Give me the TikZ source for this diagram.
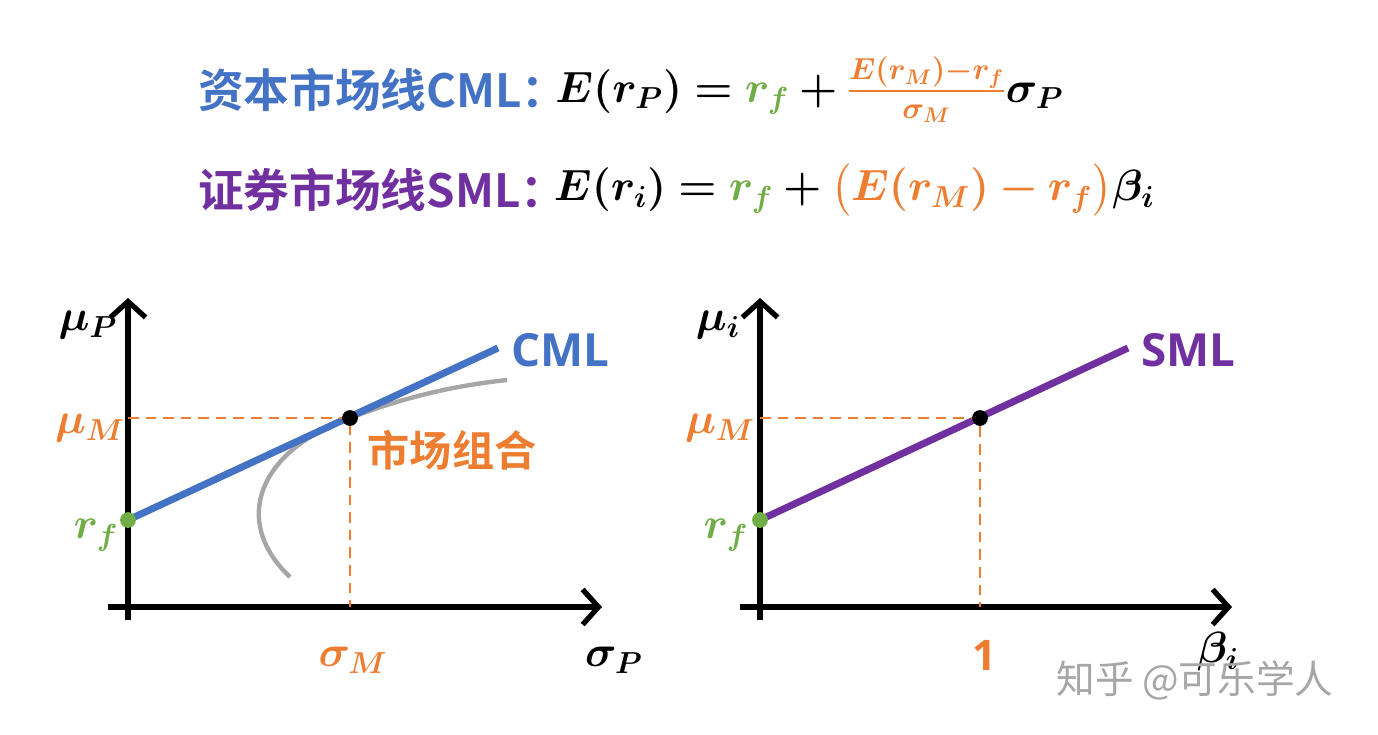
\documentclass[tikz,border=0pt]{standalone}
\usetikzlibrary{arrows.meta}
\usepackage{amsmath,bm}
\usepackage{fontspec}
\newfontfamily\cjk{Noto Sans CJK SC}[BoldFont=* Bold]
\setsansfont{Open Sans}
\definecolor{cblue}{HTML}{4472C4}
\definecolor{corange}{HTML}{ED7D31}
\definecolor{cgreen}{HTML}{70AD47}
\definecolor{cpurple}{HTML}{7030A0}
\definecolor{cgray}{HTML}{A6A6A6}
\begin{document}
\begin{tikzpicture}[x=0.02cm,y=-0.02cm,
  axis/.style={line width=3pt,-{Straight Barb[length=9pt,width=20pt,line width=3pt]}},
  guide/.style={corange,line width=1.3pt,dash pattern=on 6pt off 4pt},
  dot/.style={circle,fill,inner sep=0pt,minimum size=9pt},
  lbl/.style={font=\fontsize{24}{28}\selectfont},
  big/.style={font=\fontsize{26}{30}\selectfont}]
\useasboundingbox (0,0) rectangle (1378,734);
% formulas
\node[anchor=west,big,text=cblue] (t1) at (192,90) {\cjk\bfseries 资本市场线CML：};
\node[anchor=west,big,xshift=-14pt] (f1) at (t1.east) {$\bm{E(r_P)=}{\color{cgreen}\bm{r_f}}\bm{+}{\color{corange}\bm{\frac{E(r_M)-r_f}{\sigma_M}}}\bm{\sigma_P}$};
\node[anchor=west,big,text=cpurple] (t2) at (192,190) {\cjk\bfseries 证券市场线SML：};
\node[anchor=west,big,xshift=-14pt] (f2) at (t2.east) {$\bm{E(r_i)=}{\color{cgreen}\bm{r_f}}\bm{+}{\color{corange}\bm{\big(E(r_M)-r_f\big)}}\bm{\beta_i}$};
% left chart
\draw[axis] (128,620) -- (128,298);
\draw[axis] (108,607) -- (602,607);
\coordinate (rf1) at (128,520);
\coordinate (m1) at (350,418);
\coordinate (c1) at (498,348);
\draw[cgray,line width=2.5pt] (290,577) .. controls (230,520) and (260,450) .. (m1) .. controls (410,395) and (460,385) .. (507,380);
\draw[cblue,line width=4pt] (rf1) -- (c1);
\draw[guide] (128,418) -- (m1) -- (350,607);
\node[dot,fill=cgreen] at (rf1) {};
\node[dot,fill=black] at (m1) {};
\node[lbl] at (88,325) {$\bm{\mu_P}$};
\node[lbl,text=corange] at (90,428) {$\bm{\mu_M}$};
\node[lbl,text=cgreen] at (96,535) {$\bm{r_f}$};
\node[lbl,text=corange] at (353,660) {$\bm{\sigma_M}$};
\node[lbl] at (614,660) {$\bm{\sigma_P}$};
\node[text=cblue,font=\fontsize{26}{30}\sffamily\bfseries] at (560,350) {CML};
\node[lbl,text=corange] at (452,450) {\cjk\bfseries 市场组合};
% right chart
\draw[axis] (760,620) -- (760,298);
\draw[axis] (740,607) -- (1232,607);
\coordinate (rf2) at (760,520);
\coordinate (m2) at (980,418);
\coordinate (c2) at (1128,348);
\draw[cpurple,line width=4pt] (rf2) -- (c2);
\draw[guide] (760,418) -- (m2) -- (980,607);
\node[dot,fill=cgreen] at (rf2) {};
\node[dot,fill=black] at (m2) {};
\node[lbl] at (718,325) {$\bm{\mu_i}$};
\node[lbl,text=corange] at (720,428) {$\bm{\mu_M}$};
\node[lbl,text=cgreen] at (726,535) {$\bm{r_f}$};
\node[text=corange,font=\fontsize{24}{28}\sffamily\bfseries] at (985,655) {1};
\node[lbl] at (1218,652) {$\bm{\beta_i}$};
\node[text=gray!70,font=\fontsize{22}{26}\selectfont] at (1195,680) {\cjk 知乎 @可乐学人};
\node[text=cpurple,font=\fontsize{26}{30}\sffamily\bfseries] at (1188,350) {SML};
\end{tikzpicture}
\end{document}
